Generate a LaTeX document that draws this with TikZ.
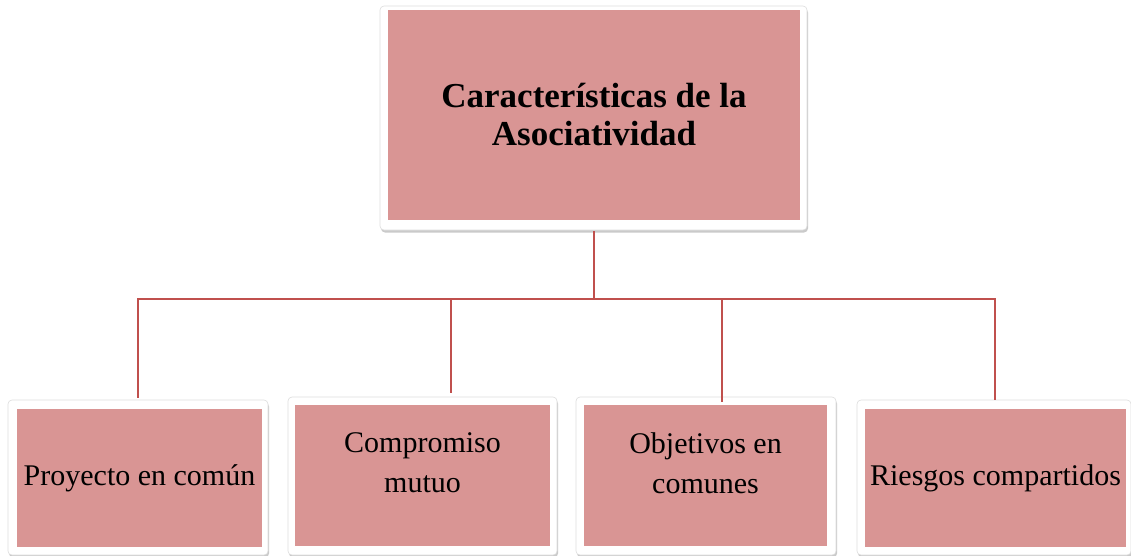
\documentclass[tikz,border=0pt]{standalone}
\usepackage{fontspec}
\setmainfont{Liberation Serif}
\usetikzlibrary{shadows}
\definecolor{pinkfill}{HTML}{D99594}
\definecolor{connred}{HTML}{C0504D}
\definecolor{frameedge}{HTML}{DDDDDD}
\begin{document}
\begin{tikzpicture}[x=1pt,y=-1pt,
  framebox/.style={draw=frameedge,line width=0.6pt,fill=white,rounded corners=4pt,
    drop shadow={opacity=0.35,shadow xshift=1pt,shadow yshift=-2.5pt,fill=black!60}},
  pinkbox/.style={fill=pinkfill,draw=none,inner sep=0pt},
  lbl/.style={align=center,inner sep=0pt,font=\fontsize{30}{40}\selectfont},
  title/.style={align=center,inner sep=0pt,font=\bfseries\fontsize{35}{38}\selectfont},
  conn/.style={draw=connred,line width=1.5pt}]
\useasboundingbox (0,0) rectangle (1131,555);
% top box
\path[framebox] (380,6) rectangle (807,230) node[coordinate] (topf) {};
\node[pinkbox,minimum width=412pt,minimum height=210pt] (top) at (594,115) {};
\node[title] (toptxt) at (594,115) {Características de la\\Asociatividad};
% bottom frames
\node[framebox,minimum width=260pt,minimum height=155pt,inner sep=0pt] (f1) at (138,477.5) {};
\node[framebox,minimum width=269pt,minimum height=158pt,inner sep=0pt] (f2) at (422.5,476) {};
\node[framebox,minimum width=260pt,minimum height=158pt,inner sep=0pt] (f3) at (706,476) {};
\node[framebox,minimum width=274pt,minimum height=155pt,inner sep=0pt] (f4) at (994,477.5) {};
% pink inner boxes
\node[pinkbox,minimum width=245pt,minimum height=138pt] (c1) at (139.5,478) {};
\node[pinkbox,minimum width=255pt,minimum height=141pt] (c2) at (422.5,475.5) {};
\node[pinkbox,minimum width=243pt,minimum height=141pt] (c3) at (705.5,475.5) {};
\node[pinkbox,minimum width=261pt,minimum height=138pt] (c4) at (995.5,478) {};
% labels
\node[lbl] (t1) at (139.5,478) {Proyecto en común};
\node[lbl] (t2) at (422.5,463) {Compromiso\\mutuo};
\node[lbl] (t3) at (705.5,463) {Objetivos en\\comunes};
\node[lbl] (t4) at (995.5,478) {Riesgos compartidos};
% connectors
\coordinate (hub) at (594,299);
\coordinate (topout) at (594,231);
\coordinate (b1) at (138,398);
\coordinate (b2) at (451,393);
\coordinate (b3) at (722,402);
\coordinate (b4) at (995,400);
\draw[conn] (topout) -- (hub);
\draw[conn] (hub) -| (b1);
\draw[conn] (hub) -| (b2);
\draw[conn] (hub) -| (b3);
\draw[conn] (hub) -| (b4);
\end{tikzpicture}
\end{document}
